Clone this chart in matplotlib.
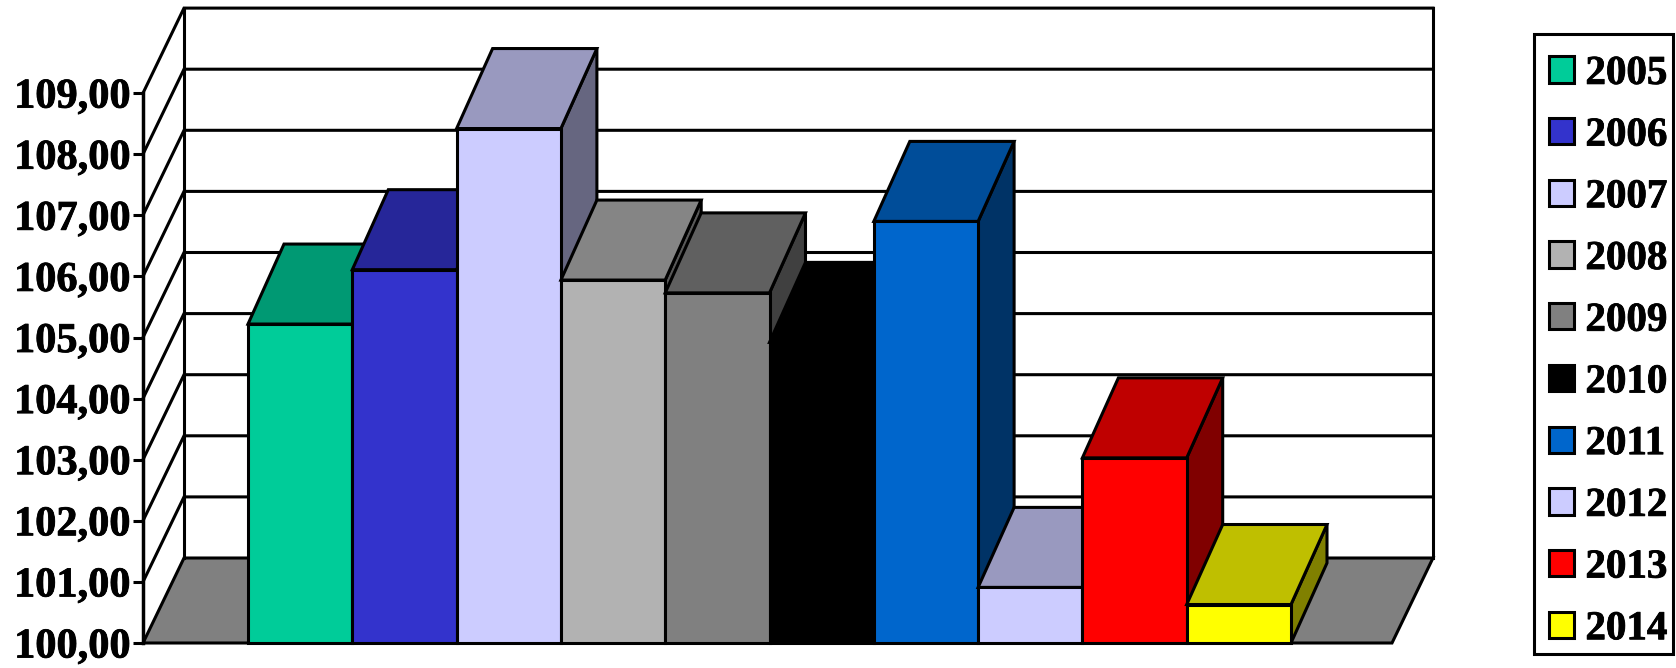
import matplotlib
matplotlib.use("Agg")
import matplotlib.pyplot as plt
import matplotlib.patheffects as pe
from matplotlib.patches import Polygon, Patch, Rectangle
from matplotlib.colors import to_rgb

years = ["2005", "2006", "2007", "2008", "2009", "2010", "2011", "2012", "2013", "2014"]
values = [105.22, 106.11, 108.42, 105.94, 105.73, 104.92, 106.90, 100.91, 103.03, 100.63]
colors = ["#00CC99", "#3333CC", "#CCCCFF", "#B2B2B2", "#808080", "#000000",
          "#0066CC", "#CCCCFF", "#FF0000", "#FFFF00"]
ticks = list(range(100, 110))
tick_labels = [f"{t},00" for t in ticks]

W, H = 1676, 668
LW = 2.2
plt.rcParams["font.family"] = ["Liberation Serif", "DejaVu Serif"]
plt.rcParams["font.weight"] = "bold"

fig = plt.figure(figsize=(W / 100, H / 100), dpi=100, facecolor="white")
px_left, px_right, px_bottom, px_top = 143, 1433, 643, 9
ax = fig.add_axes([px_left / W, 1 - px_bottom / H, (px_right - px_left) / W, (px_bottom - px_top) / H])

unit_x = 104.3
unit_y = 61.1
ax.set_xlim((px_left - 248) / unit_x - 0.5, (px_right - 248) / unit_x - 0.5)
ax.set_ylim(100, 100 + (px_bottom - px_top) / unit_y)
x0, x1 = ax.get_xlim()
wall_dx, wall_dy = 41 / unit_x, 85 / unit_y
bar_dx, bar_dy = 36 / unit_x, 80 / unit_y
top_val = ticks[-1]


def shade(c, f):
    return tuple(v * f for v in to_rgb(c))


# floor
ax.add_patch(Polygon([(x0, 100), (x0 + wall_dx, 100 + wall_dy), (x1, 100 + wall_dy), (x1 - wall_dx, 100)],
                     closed=True, facecolor="#808080", edgecolor="black", lw=LW, zorder=1, clip_on=False))
# walls
for t in ticks[1:]:
    ax.plot([x0, x0 + wall_dx, x1], [t, t + wall_dy, t + wall_dy], color="black", lw=LW, zorder=1.5,
            clip_on=False, solid_joinstyle="miter")
ax.plot([x0 + wall_dx, x0 + wall_dx], [100 + wall_dy, top_val + wall_dy], color="black", lw=LW, zorder=1.5, clip_on=False)
ax.plot([x1, x1], [100 + wall_dy, top_val + wall_dy], color="black", lw=LW, zorder=1.5, clip_on=False)

# 3-D bars
for i, (v, c) in enumerate(zip(values, colors)):
    l, r = i - 0.5, i + 0.5
    z = 2 + i * 0.1
    kw = dict(closed=True, edgecolor="black", lw=LW, zorder=z, joinstyle="miter", clip_on=False)
    ax.add_patch(Polygon([(r, 100), (r + bar_dx, 100 + bar_dy), (r + bar_dx, v + bar_dy), (r, v)],
                         facecolor=shade(c, 0.5), **kw))
    ax.add_patch(Polygon([(l, v), (l + bar_dx, v + bar_dy), (r + bar_dx, v + bar_dy), (r, v)],
                         facecolor=shade(c, 0.75), **kw))
    ax.add_patch(Polygon([(l, 100), (l, v), (r, v), (r, 100)], facecolor=c, **kw))

# y axis
for s in ("top", "right", "bottom"):
    ax.spines[s].set_visible(False)
ax.spines["left"].set_bounds(100, top_val)
ax.spines["left"].set_linewidth(LW + 0.3)
ax.patch.set_visible(False)
ax.set_xticks([])
ax.set_yticks(ticks)
ax.set_yticklabels(tick_labels, fontsize=30.5, fontweight="bold")
ax.tick_params(axis="y", length=7, width=LW, pad=2)
stroke = [pe.withStroke(linewidth=0.6, foreground="black")]
for lab in ax.get_yticklabels():
    lab.set_path_effects(stroke)

# legend: frame drawn separately because the box has uneven padding
fig.add_artist(Rectangle((1534 / W, 1 - 654 / H), 139 / W, 620 / H, transform=fig.transFigure,
                         facecolor="white", edgecolor="black", lw=LW, zorder=3))
handles = [Patch(facecolor=c, edgecolor="black", lw=LW, label=y) for y, c in zip(years, colors)]
leg = fig.legend(handles=handles, loc="upper left", bbox_to_anchor=(1533 / W, 1 - 39.5 / H),
                 bbox_transform=fig.transFigure, fontsize=29.5, frameon=False,
                 borderpad=0.4, labelspacing=0.603,
                 handlelength=0.61, handleheight=0.61, handletextpad=0.27, borderaxespad=0)
leg.set_zorder(4)
for t in leg.get_texts():
    t.set_path_effects(stroke)

fig.savefig("out.png", dpi=100, facecolor="white")
